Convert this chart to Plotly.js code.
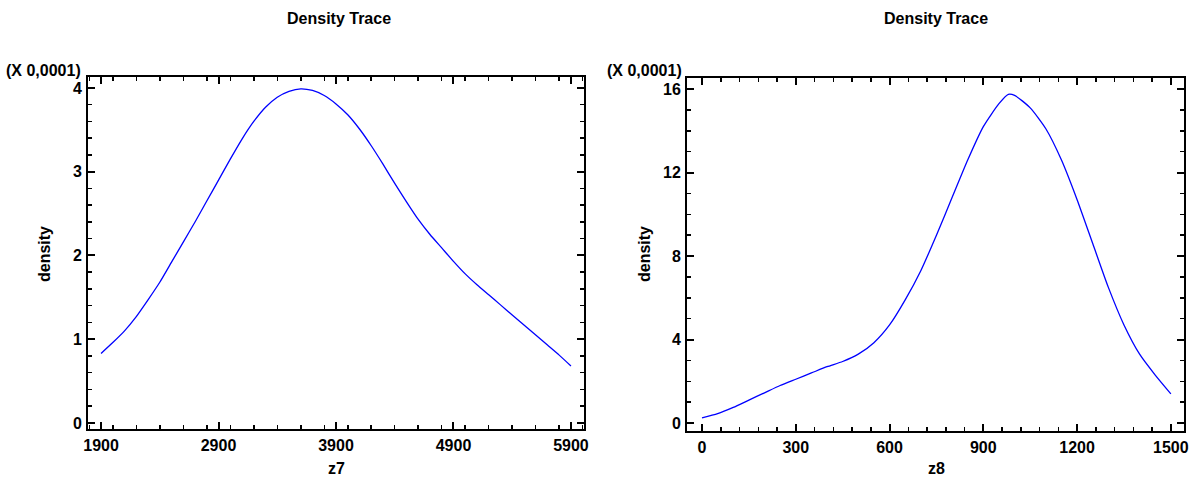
<!DOCTYPE html>
<html>
<head>
<meta charset="utf-8">
<script src="https://cdn.plot.ly/plotly-3.0.1.min.js"></script>
<style>html,body{margin:0;padding:0;background:#fff;}#chart{width:1193px;height:486px;}</style>
</head>
<body>
<div id="chart"></div>
<script>
// z7 density trace (values in units of 0.0001)
const z7X = [1900,2000,2100,2200,2300,2400,2500,2600,2700,2800,2900,3000,3100,3200,3300,3400,3500,3600,3700,3800,3900,4000,4100,4200,4300,4400,4500,4600,4700,4800,4900,5000,5100,5200,5300,5400,5500,5600,5700,5800,5900];
const z7Density = [0.83,0.96,1.1,1.27,1.47,1.68,1.92,2.16,2.4,2.65,2.9,3.15,3.39,3.6,3.77,3.89,3.96,3.99,3.97,3.91,3.81,3.68,3.51,3.31,3.09,2.86,2.64,2.43,2.25,2.09,1.93,1.78,1.65,1.53,1.41,1.29,1.17,1.05,0.93,0.81,0.68];
// z8 density trace (values in units of 0.0001)
const z8X = [0,50,100,150,200,250,300,350,400,450,500,550,600,650,700,750,800,850,900,950,980,1000,1050,1100,1150,1200,1250,1300,1350,1400,1450,1500];
const z8Density = [0.25,0.45,0.75,1.1,1.45,1.8,2.1,2.4,2.7,2.95,3.3,3.85,4.7,5.9,7.3,9.0,10.8,12.6,14.2,15.3,15.75,15.7,15.1,14.1,12.6,10.7,8.6,6.5,4.7,3.3,2.3,1.4];

const z7Ticks = [1900,2900,3900,4900,5900];
const z8Ticks = [0,300,600,900,1200,1500];

const W = 1193, H = 486;
const px = v => v / W, py = v => (H - v) / H;
const FONT = 'Liberation Sans, Arial, sans-serif';

function xax(domain, range, ticks, minorDtick) {
  return {
    domain: domain, range: range, tickmode: 'array', tickvals: ticks,
    ticktext: ticks.map(String),
    showline: true, linecolor: '#000', linewidth: 2, mirror: 'allticks',
    ticks: 'inside', ticklen: 7, tickwidth: 2, tickcolor: '#000',
    minor: {dtick: minorDtick, ticks: 'inside', ticklen: 4, tickwidth: 1.5, tickcolor: '#000', showgrid: false},
    showgrid: false, zeroline: false,
    tickfont: {family: FONT, size: 16, color: '#000', weight: 'bold'},
    ticklabelstandoff: 1,
    fixedrange: true
  };
}
function yax(domain, range, dtick, minorDtick, anchor) {
  return {
    domain: domain, range: range, dtick: dtick, tick0: 0, anchor: anchor,
    showline: true, linecolor: '#000', linewidth: 2, mirror: 'allticks',
    ticks: 'inside', ticklen: 7, tickwidth: 2, tickcolor: '#000',
    minor: {dtick: minorDtick, ticks: 'inside', ticklen: 4, tickwidth: 1.5, tickcolor: '#000', showgrid: false},
    showgrid: false, zeroline: false,
    tickfont: {family: FONT, size: 16, color: '#000', weight: 'bold'},
    ticklabelstandoff: 1,
    fixedrange: true
  };
}

const traces = [
  {x: z7X, y: z7Density, type: 'scatter', mode: 'lines', line: {color: '#0000ff', width: 1.3, shape: 'spline', smoothing: 0.6}, xaxis: 'x', yaxis: 'y', hoverinfo: 'skip'},
  {x: z8X, y: z8Density, type: 'scatter', mode: 'lines', line: {color: '#0000ff', width: 1.3, shape: 'spline', smoothing: 0.6}, xaxis: 'x2', yaxis: 'y2', hoverinfo: 'skip'}
];

const titleFont = {family: FONT, size: 16, color: '#000', weight: 'bold'};
const labFont = {family: FONT, size: 16, color: '#000', weight: 'bold'};

const layout = {
  width: W, height: H,
  margin: {l: 0, r: 0, t: 0, b: 0},
  paper_bgcolor: '#fff', plot_bgcolor: '#fff',
  showlegend: false,
  xaxis: Object.assign(xax([px(88), px(584)], [1789, 6011], z7Ticks, 200), {anchor: 'y'}),
  yaxis: yax([py(429), py(77)], [-0.072, 4.131], 1, 0.2, 'x'),
  xaxis2: Object.assign(xax([px(687), px(1184)], [-48, 1542], z8Ticks, 60), {anchor: 'y2'}),
  yaxis2: yax([py(431), py(78)], [-0.38, 16.53], 4, 1, 'x2'),
  annotations: [
    {text: 'Density Trace', x: px(339), y: py(18), xref: 'paper', yref: 'paper', xanchor: 'center', yanchor: 'middle', showarrow: false, font: titleFont},
    {text: 'Density Trace', x: px(936), y: py(18), xref: 'paper', yref: 'paper', xanchor: 'center', yanchor: 'middle', showarrow: false, font: titleFont},
    {text: '(X 0,0001)', x: px(83), y: py(70), xref: 'paper', yref: 'paper', xanchor: 'right', yanchor: 'middle', showarrow: false, font: labFont},
    {text: '(X 0,0001)', x: px(684), y: py(70), xref: 'paper', yref: 'paper', xanchor: 'right', yanchor: 'middle', showarrow: false, font: labFont},
    {text: 'density', x: px(45), y: py(254), xref: 'paper', yref: 'paper', xanchor: 'center', yanchor: 'middle', textangle: -90, showarrow: false, font: labFont},
    {text: 'density', x: px(645), y: py(254), xref: 'paper', yref: 'paper', xanchor: 'center', yanchor: 'middle', textangle: -90, showarrow: false, font: labFont},
    {text: 'z7', x: px(336), y: py(468), xref: 'paper', yref: 'paper', xanchor: 'center', yanchor: 'middle', showarrow: false, font: labFont},
    {text: 'z8', x: px(936), y: py(468), xref: 'paper', yref: 'paper', xanchor: 'center', yanchor: 'middle', showarrow: false, font: labFont}
  ]
};

Plotly.newPlot('chart', traces, layout, {staticPlot: true, displayModeBar: false});
</script>
</body>
</html>
